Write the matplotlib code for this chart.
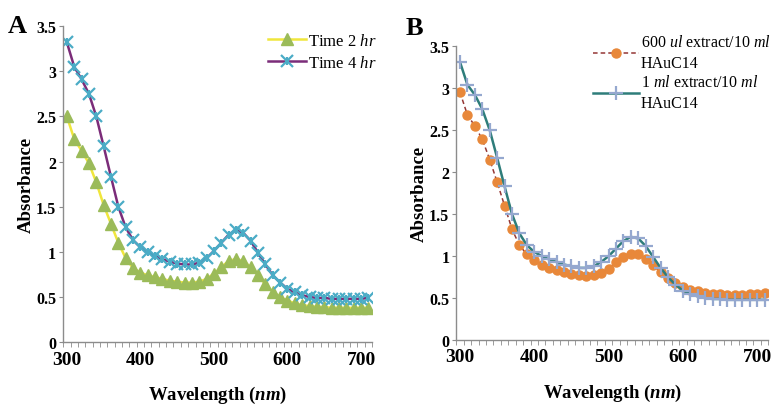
import matplotlib
matplotlib.use("Agg")
import matplotlib.pyplot as plt
from matplotlib.legend_handler import HandlerTuple

plt.rcParams['font.family'] = ['Liberation Serif', 'DejaVu Serif']
plt.rcParams['mathtext.fontset'] = 'custom'
plt.rcParams['mathtext.rm'] = 'Liberation Serif'
plt.rcParams['mathtext.it'] = 'Liberation Serif:italic'
plt.rcParams['mathtext.bf'] = 'Liberation Serif:bold'
plt.rcParams['mathtext.bfit'] = 'Liberation Serif:italic:bold'

# wavelengths (nm), one point every 10 nm
wavelength = [300, 310, 320, 330, 340, 350, 360, 370, 380, 390,
              400, 410, 420, 430, 440, 450, 460, 470, 480, 490,
              500, 510, 520, 530, 540, 550, 560, 570, 580, 590,
              600, 610, 620, 630, 640, 650, 660, 670, 680, 690,
              700, 710]

# Panel A
time_2hr = [2.50, 2.25, 2.12, 1.98, 1.77, 1.52, 1.31, 1.10, 0.93, 0.82,
            0.77, 0.74, 0.72, 0.70, 0.68, 0.67, 0.66, 0.66, 0.67, 0.70,
            0.76, 0.83, 0.90, 0.92, 0.90, 0.83, 0.74, 0.64, 0.56, 0.50,
            0.46, 0.43, 0.41, 0.40, 0.39, 0.39, 0.38, 0.38, 0.38, 0.38,
            0.38, 0.38]
time_4hr = [3.32, 3.05, 2.91, 2.75, 2.50, 2.17, 1.83, 1.50, 1.27, 1.13,
            1.05, 1.00, 0.95, 0.92, 0.89, 0.87, 0.86, 0.86, 0.88, 0.93,
            1.01, 1.10, 1.19, 1.24, 1.21, 1.12, 0.99, 0.86, 0.74, 0.66,
            0.59, 0.55, 0.52, 0.50, 0.49, 0.49, 0.48, 0.48, 0.48, 0.48,
            0.48, 0.49]

# Panel B
extract_600ul = [2.95, 2.68, 2.55, 2.39, 2.15, 1.88, 1.60, 1.32, 1.13, 1.02,
                 0.95, 0.90, 0.86, 0.83, 0.81, 0.79, 0.77, 0.76, 0.77, 0.80,
                 0.85, 0.93, 0.99, 1.03, 1.02, 0.96, 0.89, 0.81, 0.74, 0.68,
                 0.63, 0.60, 0.58, 0.56, 0.55, 0.55, 0.54, 0.54, 0.54, 0.55,
                 0.55, 0.56]
extract_1ml = [3.31, 3.04, 2.92, 2.75, 2.50, 2.17, 1.83, 1.50, 1.27, 1.13,
               1.05, 1.00, 0.96, 0.93, 0.90, 0.88, 0.86, 0.86, 0.88, 0.93,
               1.00, 1.09, 1.18, 1.23, 1.21, 1.12, 0.99, 0.86, 0.75, 0.66,
               0.59, 0.55, 0.52, 0.50, 0.49, 0.49, 0.48, 0.48, 0.48, 0.48,
               0.48, 0.48]

xticks = [300, 400, 500, 600, 700]
yticks = [0, 0.5, 1, 1.5, 2, 2.5, 3, 3.5]
minor_ticks = [295 + 10 * i for i in range(43)]

fig = plt.figure(figsize=(7.8, 4.1), dpi=100)
axA = fig.add_axes([0.081, 0.163, 0.396, 0.771])
axB = fig.add_axes([0.585, 0.168, 0.400, 0.717])


def style_axis(ax):
    for s in ['top', 'right']:
        ax.spines[s].set_visible(False)
    for s in ['left', 'bottom']:
        ax.spines[s].set_color('#8c8c8c')
        ax.spines[s].set_linewidth(1.0)
    ax.set_xlim(295, 715)
    ax.set_ylim(0, 3.5)
    ax.set_xticks(xticks)
    ax.set_xticks(minor_ticks, minor=True)
    ax.set_yticks(yticks)
    ax.set_yticklabels(['0', '0.5', '1', '1.5', '2', '2.5', '3', '3.5'])
    ax.tick_params(axis='x', which='major', length=0, pad=6, labelsize=14)
    ax.tick_params(axis='x', which='minor', length=3.5, color='#8c8c8c', direction='out')
    ax.tick_params(axis='y', length=3, color='#8c8c8c', pad=2, labelsize=11.5)
    for lab in ax.get_xticklabels() + ax.get_yticklabels():
        lab.set_fontweight('bold')
    ax.set_xlabel(r'Wavelength ($\mathbfit{nm}$)', fontsize=13.5, fontweight='bold', labelpad=12)
    ax.set_ylabel('Absorbance', fontsize=13.5, fontweight='bold', labelpad=1)


# ---- Panel A ----
l2, = axA.plot(wavelength, time_2hr, color='#f0e63c', lw=1.8, marker='^', ms=9,
               markerfacecolor='#9bbb59', markeredgecolor='#9bbb59')
l4, = axA.plot(wavelength, time_4hr, color='#7b2c79', lw=1.8)
m4x, = axA.plot(wavelength, time_4hr, ls='none', marker='x', ms=8, mew=1.6, color='#4bacc6')
m4v, = axA.plot(wavelength, time_4hr, ls='none', marker='|', ms=6, mew=1.6, color='#4bacc6')
style_axis(axA)
axA.legend([l2, (l4, m4x, m4v)], ['Time 2 $\\it{hr}$', 'Time 4 $\\it{hr}$'],
           handler_map={tuple: HandlerTuple(ndivide=1)},
           loc='upper left', bbox_to_anchor=(0.343, 0.918), bbox_transform=fig.transFigure,
           frameon=False, fontsize=12, handlelength=2.3, handletextpad=0.1,
           labelspacing=0.4, borderaxespad=0, borderpad=0)
fig.text(0.010, 0.935, 'A', fontsize=19, fontweight='bold', va='center')

# ---- Panel B ----
l6, = axB.plot(wavelength, extract_600ul, color='#953735', lw=1.1, ls=(0, (3, 2)),
               marker='o', ms=6.5, markerfacecolor='#e8883a', markeredgecolor='#e8883a')
l1, = axB.plot(wavelength, extract_1ml, color='#2e7d7a', lw=1.8)
m1, = axB.plot(wavelength, extract_1ml, ls='none', marker='+', ms=10, mew=1.6, color='#95a8cf')
style_axis(axB)
legB = axB.legend([l6, (l1, m1)],
                  ['600 $\\it{ul}$ extract/10 $\\it{ml}$\nHAuC14',
                   '1 $\\it{ml}$ extract/10 $\\it{ml}$\nHAuC14'],
                  handler_map={tuple: HandlerTuple(ndivide=1)},
                  loc='upper left', bbox_to_anchor=(0.760, 0.915), bbox_transform=fig.transFigure,
                  frameon=False, fontsize=11.5, handlelength=2.9, handletextpad=0.1,
                  labelspacing=0.2, borderaxespad=0, borderpad=0)
for t in legB.get_texts():
    t.set_linespacing(1.4)
fig.text(0.520, 0.930, 'B', fontsize=19, fontweight='bold', va='center')

fig.savefig('out.png', dpi=100)
